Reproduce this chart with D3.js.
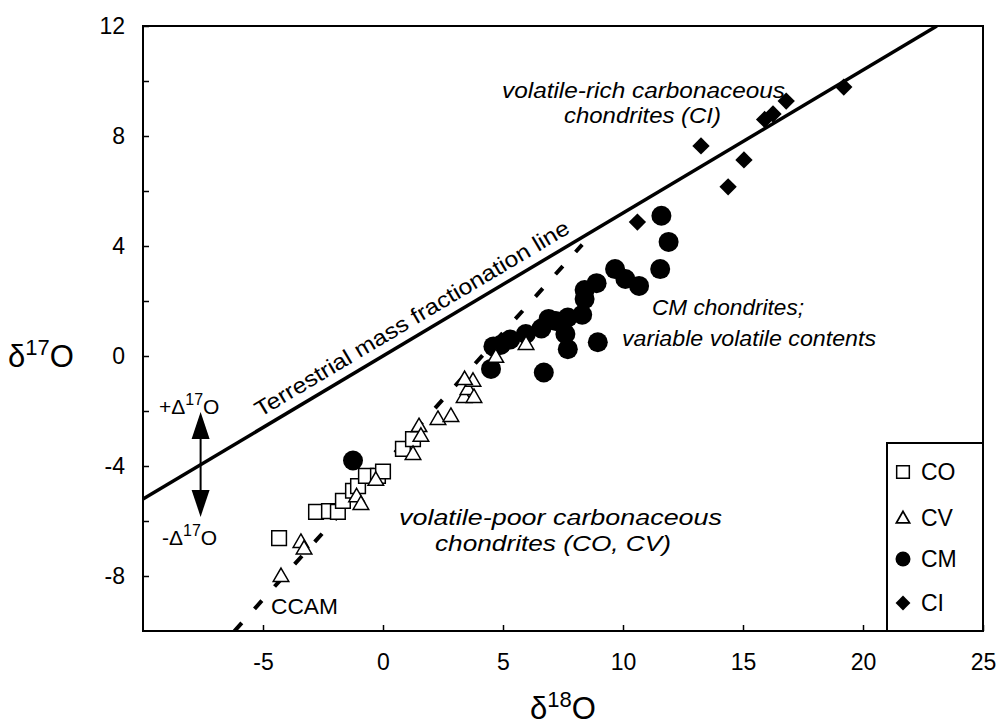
<!DOCTYPE html>
<html>
<head>
<meta charset="utf-8">
<script src="https://cdn.jsdelivr.net/npm/d3@7"></script>
<style>
  html, body { margin: 0; padding: 0; background: #fff; }
  text { font-family: "Liberation Sans", Arial, Helvetica, sans-serif; fill: #000; }
</style>
</head>
<body>
<svg id="chart" width="1000" height="725"></svg>
<script>
// ---------------- data ----------------
const xTickValues = [-5, 0, 5, 10, 15, 20, 25];
const yTickValues = [-8, -6, -4, -2, 0, 2, 4, 6, 8, 10, 12];
const yLabelValues = [-8, -4, 0, 4, 8, 12];

// CO chondrites (open squares)
const coX = [-4.33, -2.79, -2.25, -1.88, -1.67, -1.25, -1.04, -0.71, -0.21, 0.0, 0.83, 1.25];
const coY = [-6.62, -5.67, -5.64, -5.67, -5.27, -4.90, -4.73, -4.36, -4.36, -4.20, -3.38, -3.02];

// CV chondrites (open triangles)
const cvX = [-4.25, -3.42, -3.29, -1.10, -0.92, -0.30, 1.25, 1.50, 1.58, 2.29, 2.83, 3.38, 3.54, 3.79, 3.75, 3.40, 4.70, 5.96];
const cvY = [-8.00, -6.76, -7.00, -5.10, -5.38, -4.50, -3.56, -2.55, -2.90, -2.29, -2.18, -1.49, -1.20, -1.49, -0.90, -0.84, -0.03, 0.44];

// CM chondrites (filled circles)
const cmX = [11.6, 11.9, 11.55, 9.67, 10.1, 10.67, 8.9, 8.4, 8.4, 8.3, 7.7, 7.2, 7.6, 6.9, 6.6, 5.95, 5.3, 4.9, 4.6, 8.95, 7.7, 6.7, 4.5, -1.25];
const cmY = [5.10, 4.15, 3.16, 3.16, 2.80, 2.55, 2.65, 2.40, 2.07, 1.50, 1.40, 1.27, 0.80, 1.35, 1.00, 0.80, 0.60, 0.40, 0.35, 0.50, 0.25, -0.60, -0.47, -3.80];

// CI chondrites (filled diamonds)
const ciX = [10.6, 13.25, 14.38, 15.04, 15.9, 16.25, 16.8, 19.2];
const ciY = [4.87, 7.64, 6.15, 7.13, 8.6, 8.8, 9.27, 9.78];

// reference lines: terrestrial fractionation (slope 0.52) and CCAM
const tfSlope = 0.52, tfIntercept = 0;
const ccamSlope = 0.97, ccamIntercept = -4.0;
const ccamRange = [-6.19, 8.3];

const legendLabels = ["CO", "CV", "CM", "CI"];

// ---------------- layout ----------------
const svg = d3.select("#chart");
const L = 143, R = 983, T = 26, B = 631;
const x = d3.scaleLinear().domain([-10, 25]).range([L, R]);
const y = d3.scaleLinear().domain([-10, 12]).range([B, T]);

const TICKFONT = 23;
const FONT = 22;

// axes
const xAxis = d3.axisBottom(x).tickValues(xTickValues).tickSize(-6).tickPadding(23)
  .tickFormat(d => String(d));
const gx = svg.append("g").attr("transform", `translate(0,${B})`).call(xAxis);
gx.attr("font-size", null).attr("font-family", null);
gx.select(".domain").remove();
gx.selectAll(".tick line").attr("stroke", "#000").attr("stroke-width", 1.5);
gx.selectAll(".tick text").style("font-size", TICKFONT + "px").attr("dy", "0.71em");

const yAxis = d3.axisLeft(y).tickValues(yTickValues).tickSize(-6).tickPadding(18)
  .tickFormat(d => yLabelValues.includes(d) ? String(d) : "");
const gy = svg.append("g").attr("transform", `translate(${L},0)`).call(yAxis);
gy.attr("font-size", null).attr("font-family", null);
gy.select(".domain").remove();
gy.selectAll(".tick line").attr("stroke", "#000").attr("stroke-width", 1.5);
gy.selectAll(".tick text").style("font-size", TICKFONT + "px");

// frame
svg.append("rect").attr("x", L).attr("y", T).attr("width", R - L).attr("height", B - T)
  .attr("fill", "none").attr("stroke", "#000").attr("stroke-width", 2);

// clip for lines
svg.append("clipPath").attr("id", "plotclip").append("rect")
  .attr("x", L).attr("y", T).attr("width", R - L).attr("height", B - T);

// terrestrial fractionation line
const tfX0 = -10, tfX1 = (12 - tfIntercept) / tfSlope;
svg.append("line").attr("clip-path", "url(#plotclip)")
  .attr("x1", x(tfX0)).attr("y1", y(tfSlope * tfX0 + tfIntercept))
  .attr("x2", x(tfX1)).attr("y2", y(tfSlope * tfX1 + tfIntercept))
  .attr("stroke", "#000").attr("stroke-width", 3.5);

// CCAM dashed line
svg.append("line").attr("clip-path", "url(#plotclip)")
  .attr("x1", x(ccamRange[0])).attr("y1", y(ccamSlope * ccamRange[0] + ccamIntercept))
  .attr("x2", x(ccamRange[1])).attr("y2", y(ccamSlope * ccamRange[1] + ccamIntercept))
  .attr("stroke", "#000").attr("stroke-width", 4).attr("stroke-dasharray", "11,19");

// symbols
const sqSym = d3.symbol().type(d3.symbolSquare).size(215);
const triSym = d3.symbol().type(d3.symbolTriangle).size(105);
const diaSym = d3.symbol().type(d3.symbolSquare).size(150);

const gData = svg.append("g");

// CM circles
gData.selectAll(".cm").data(d3.range(cmX.length)).join("circle")
  .attr("cx", i => x(cmX[i])).attr("cy", i => y(cmY[i])).attr("r", 10)
  .attr("fill", "#000");

// CO squares
gData.selectAll(".co").data(d3.range(coX.length)).join("path")
  .attr("d", sqSym)
  .attr("transform", i => `translate(${x(coX[i])},${y(coY[i])})`)
  .attr("fill", "#fff").attr("stroke", "#000").attr("stroke-width", 1.5);

// CV triangles
gData.selectAll(".cv").data(d3.range(cvX.length)).join("path")
  .attr("d", triSym)
  .attr("transform", i => `translate(${x(cvX[i])},${y(cvY[i]) + 1})`)
  .attr("fill", "#fff").attr("stroke", "#000").attr("stroke-width", 1.5);

// CI diamonds
gData.selectAll(".ci").data(d3.range(ciX.length)).join("path")
  .attr("d", diaSym)
  .attr("transform", i => `translate(${x(ciX[i])},${y(ciY[i])}) rotate(45)`)
  .attr("fill", "#000");

// ---------------- annotations ----------------
function itext(txt, px, py, len, opts = {}) {
  const t = svg.append("text").attr("x", px).attr("y", py)
    .attr("font-size", opts.size || FONT)
    .attr("font-style", opts.italic === false ? "normal" : "italic")
    .attr("text-anchor", opts.anchor || "start")
    .text(txt);
  if (len) t.attr("textLength", len).attr("lengthAdjust", "spacingAndGlyphs");
  return t;
}

itext("volatile-rich carbonaceous", 502, 98, 283);
itext("chondrites (CI)", 564, 123, 157);
itext("CM chondrites;", 652, 315, 152);
itext("variable volatile contents", 622, 346, 254);
itext("volatile-poor carbonaceous", 399, 525, 323);
itext("chondrites (CO, CV)", 435, 551, 236);
itext("CCAM", 271, 614, 67, { italic: false });

// rotated label along terrestrial line
const angle = Math.atan(tfSlope * (y(0) - y(1)) / (x(1) - x(0))) * 180 / Math.PI;
const lx = -4.9;
svg.append("text")
  .attr("transform", `translate(${x(lx)},${y(tfSlope * lx)}) rotate(${-angle}) translate(0,-10)`)
  .attr("font-size", FONT)
  .attr("textLength", 362).attr("lengthAdjust", "spacingAndGlyphs")
  .text("Terrestrial mass fractionation line");

// Δ17O arrow
const arrX = -7.6, arrTop = -2.04, arrBot = -5.85;
const ax = x(arrX), ayT = y(arrTop), ayB = y(arrBot);
svg.append("line").attr("x1", ax).attr("x2", ax).attr("y1", ayT + 20).attr("y2", ayB - 20)
  .attr("stroke", "#000").attr("stroke-width", 2);
svg.append("path").attr("d", `M${ax},${ayT} L${ax - 9},${ayT + 27} L${ax + 9},${ayT + 27} Z`).attr("fill", "#000");
svg.append("path").attr("d", `M${ax},${ayB} L${ax - 9},${ayB - 27} L${ax + 9},${ayB - 27} Z`).attr("fill", "#000");

function deltaLabel(sign, px, py) {
  const t = svg.append("text").attr("x", px).attr("y", py).attr("font-size", 21);
  t.append("tspan").text(sign + "Δ");
  t.append("tspan").attr("font-size", 16).attr("dy", -9).text("17");
  t.append("tspan").attr("dy", 9).text("O");
}
deltaLabel("+", 159, 414);
deltaLabel("-", 162, 545);

// axis titles
function isoTitle(sup, px, py, anchor) {
  const t = svg.append("text").attr("x", px).attr("y", py).attr("font-size", 31)
    .attr("text-anchor", anchor);
  t.append("tspan").text("δ");
  t.append("tspan").attr("font-size", 22).attr("dy", -12).text(sup);
  t.append("tspan").attr("dy", 12).text("O");
}
isoTitle("18", (L + R) / 2, 719, "middle");
isoTitle("17", 8, 367, "start");

// ---------------- legend ----------------
const lg = svg.append("g");
lg.append("rect").attr("x", 887).attr("y", 443).attr("width", R - 887).attr("height", B - 443)
  .attr("fill", "#fff").attr("stroke", "#000").attr("stroke-width", 2);
const legY = [472, 518, 559, 603];
lg.append("path").attr("d", d3.symbol().type(d3.symbolSquare).size(160)())
  .attr("transform", `translate(903,${legY[0]})`).attr("fill", "#fff").attr("stroke", "#000").attr("stroke-width", 1.5);
lg.append("path").attr("d", d3.symbol().type(d3.symbolTriangle).size(75)())
  .attr("transform", `translate(903,${legY[1] + 1})`).attr("fill", "#fff").attr("stroke", "#000").attr("stroke-width", 1.8);
lg.append("circle").attr("cx", 903).attr("cy", legY[2]).attr("r", 7.5).attr("fill", "#000");
lg.append("path").attr("d", d3.symbol().type(d3.symbolSquare).size(110)())
  .attr("transform", `translate(903,${legY[3]}) rotate(45)`).attr("fill", "#000");
legendLabels.forEach((s, i) => {
  lg.append("text").attr("x", 921).attr("y", legY[i]).attr("dy", "0.36em")
    .attr("font-size", 23).text(s);
});
</script>
</body>
</html>
